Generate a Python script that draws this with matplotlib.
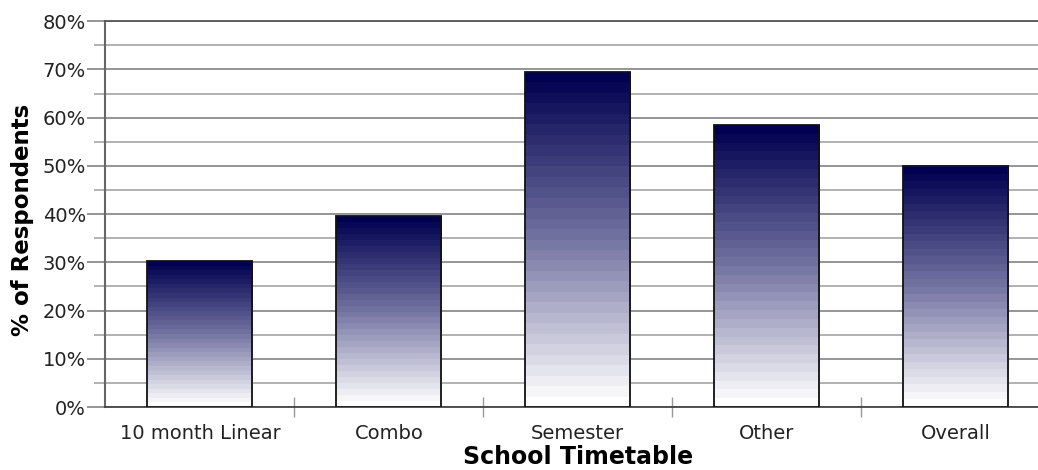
import numpy as np
import matplotlib.pyplot as plt
from matplotlib.colors import LinearSegmentedColormap
from matplotlib.ticker import MultipleLocator, FixedLocator, FuncFormatter

# Share of respondents per school timetable type
categories = ['10 month Linear', 'Combo', 'Semester', 'Other', 'Overall']
pct = [30.2, 39.5, 69.4, 58.4, 49.9]

bar_w = 0.556
n_bands = 32

fig = plt.figure(figsize=(10.38, 4.70), dpi=100)
ax = fig.add_axes([0.1016, 0.134, 0.91, 0.821])

x = np.arange(len(categories))
ax.set_xlim(-0.5, len(categories) - 0.5)
ax.set_ylim(0, 80)

# stepped navy -> white fill, dark at the top of each bar
cmap = LinearSegmentedColormap.from_list(
    'navy', [(0, '#ffffff'), (0.5, '#7474a2'), (1, '#000050')], N=n_bands)
grad = np.linspace(0, 1, n_bands).reshape(-1, 1)
for xi, v in zip(x, pct):
    ax.imshow(grad, cmap=cmap, aspect='auto', origin='lower',
              interpolation='nearest',
              extent=(xi - bar_w / 2, xi + bar_w / 2, 0, v), zorder=3)

ax.bar(x, pct, width=bar_w, fill=False, edgecolor='#111111', linewidth=1.3, zorder=4)

# y axis: labelled every 10%, extra grid every 5%
ax.yaxis.set_major_locator(MultipleLocator(10))
ax.yaxis.set_minor_locator(MultipleLocator(5))
ax.yaxis.set_major_formatter(FuncFormatter(lambda v, p: f'{v:.0f}%'))
ax.grid(axis='y', which='major', color='#8c8c8c', linewidth=1.3, zorder=0)
ax.grid(axis='y', which='minor', color='#ababab', linewidth=1.3, zorder=0)
ax.tick_params(axis='y', which='major', length=13, width=1.3, color='#8c8c8c',
               labelsize=14, labelcolor='#222222', pad=1)
ax.tick_params(axis='y', which='minor', length=8, width=1.3, color='#ababab')

# x axis: category names, separator ticks between them
ax.set_xticks(x)
ax.set_xticklabels(categories)
ax.xaxis.set_minor_locator(FixedLocator(x[:-1] + 0.5))
ax.tick_params(axis='x', which='major', length=0, labelsize=14,
               labelcolor='#222222', pad=12)
ax.tick_params(axis='x', which='minor', direction='inout', length=14,
               width=1.0, color='#999999')

ax.spines['right'].set_visible(False)
ax.spines['top'].set_color('#555555')
ax.spines['top'].set_linewidth(1.3)
ax.spines['left'].set_color('#666666')
ax.spines['left'].set_linewidth(1.5)
ax.spines['bottom'].set_color('#444444')
ax.spines['bottom'].set_linewidth(1.3)

ax.set_xlabel('School Timetable', fontsize=17, fontweight='bold', labelpad=2)
ax.set_ylabel('% of Respondents', fontsize=16.5, fontweight='bold')
ax.yaxis.set_label_coords(-0.076, 0.485)

fig.savefig('out.png', dpi=100)
